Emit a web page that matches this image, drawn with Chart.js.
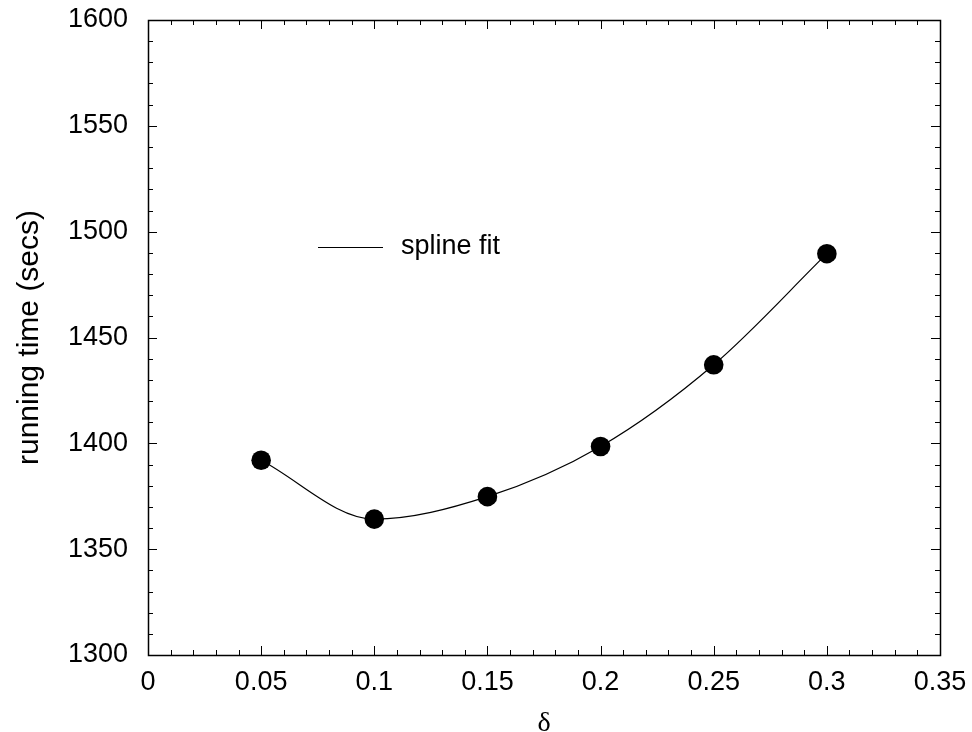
<!DOCTYPE html>
<html>
<head>
<meta charset="utf-8">
<script src="https://cdn.jsdelivr.net/npm/chart.js@4.4.1/dist/chart.umd.min.js"></script>
<style>
  body { margin: 0; background: #fff; }
  #wrap { width: 972px; height: 732px; }
</style>
</head>
<body>
<div id="wrap"><canvas id="runtime" width="972" height="732"></canvas></div>
<script>
// delta values and measured running times
let deltas = [0.05, 0.1, 0.15, 0.2, 0.25, 0.3];
let runTimes = [1392, 1364.2, 1374.8, 1398.5, 1437.1, 1489.6];
let xTicks = [0, 0.05, 0.1, 0.15, 0.2, 0.25, 0.3, 0.35];
let yTicks = [1300, 1350, 1400, 1450, 1500, 1550, 1600];

let points = deltas.map((d, i) => ({ x: d, y: runTimes[i] }));
let font = 'Liberation Sans, Arial, Helvetica, sans-serif';

// box around the plot with inward major/minor ticks on every side
const frameTicks = {
  id: 'frameTicks',
  afterDraw(chart) {
    const { ctx, chartArea: a, scales } = chart;
    const xs = scales.x, ys = scales.y;
    ctx.save();
    ctx.strokeStyle = '#000';
    ctx.lineWidth = 1.5;
    ctx.strokeRect(a.left + 0.5, a.top + 0.5, a.right - a.left, a.bottom - a.top);
    ctx.lineWidth = 1;
    ctx.beginPath();
    for (let v = 0; v <= 0.3501; v += 0.01) {
      const major = Math.abs(v / 0.05 - Math.round(v / 0.05)) < 1e-6;
      const len = major ? 9 : 5;
      const px = Math.round(xs.getPixelForValue(v)) + 0.5;
      ctx.moveTo(px, a.bottom);
      ctx.lineTo(px, a.bottom - len);
      ctx.moveTo(px, a.top);
      ctx.lineTo(px, a.top + len);
    }
    for (let v = 1300; v <= 1600; v += 10) {
      const len = v % 50 === 0 ? 9 : 5;
      const py = Math.round(ys.getPixelForValue(v)) + 0.5;
      ctx.moveTo(a.left, py);
      ctx.lineTo(a.left + len, py);
      ctx.moveTo(a.right, py);
      ctx.lineTo(a.right - len, py);
    }
    ctx.stroke();

    // legend entry for the fitted curve
    const ds = chart.data.datasets[0];
    ctx.beginPath();
    ctx.lineWidth = 1.2;
    ctx.moveTo(318, 247.5);
    ctx.lineTo(383, 247.5);
    ctx.stroke();
    ctx.fillStyle = '#000';
    ctx.font = '27px ' + font;
    ctx.textBaseline = 'middle';
    ctx.fillText(ds.label, 401, 247);
    ctx.restore();
  }
};

new Chart(document.getElementById('runtime'), {
  type: 'scatter',
  data: {
    datasets: [
      {
        label: 'spline fit',
        data: points,
        showLine: true,
        cubicInterpolationMode: 'monotone',
        borderColor: '#000',
        borderWidth: 1.2,
        pointRadius: 0,
        order: 2,
      },
      {
        label: 'data',
        data: points,
        showLine: false,
        pointRadius: 9.8,
        pointBorderWidth: 0,
        pointBackgroundColor: '#000',
        order: 1,
      },
    ],
  },
  options: {
    responsive: false,
    animation: false,
    devicePixelRatio: 1,
    layout: { padding: { left: 0, top: 20, right: 32, bottom: 0 } },
    plugins: { legend: { display: false }, tooltip: { enabled: false } },
    scales: {
      x: {
        type: 'linear',
        min: 0,
        max: 0.35,
        afterFit: (s) => {
          s.height = 77;
          s.paddingLeft = 0;
          s.paddingRight = 0;
        },
        afterBuildTicks: (s) => { s.ticks = xTicks.map((v) => ({ value: v })); },
        grid: { display: false, drawTicks: false },
        border: { display: false },
        ticks: {
          padding: 11,
          color: '#000',
          font: { family: font, size: 27 },
          callback: (v) => String(+v.toFixed(2)),
        },
        title: {
          display: true,
          text: 'δ',
          color: '#000',
          font: { family: 'Liberation Serif, DejaVu Serif, serif', size: 28 },
          padding: { top: 0, bottom: -8 },
        },
      },
      y: {
        type: 'linear',
        min: 1300,
        max: 1600,
        afterFit: (s) => {
          s.width = 148;
          s.paddingTop = 0;
          s.paddingBottom = 0;
        },
        afterBuildTicks: (s) => { s.ticks = yTicks.map((v) => ({ value: v })); },
        grid: { display: false, drawTicks: false },
        border: { display: false },
        ticks: {
          padding: 20,
          color: '#000',
          font: { family: font, size: 27 },
          callback: (v) => String(v),
        },
        title: {
          display: true,
          text: 'running time (secs)',
          color: '#000',
          font: { family: font, size: 30 },
          padding: { top: 12, bottom: 0 },
        },
      },
    },
  },
  plugins: [frameTicks],
});
</script>
</body>
</html>
